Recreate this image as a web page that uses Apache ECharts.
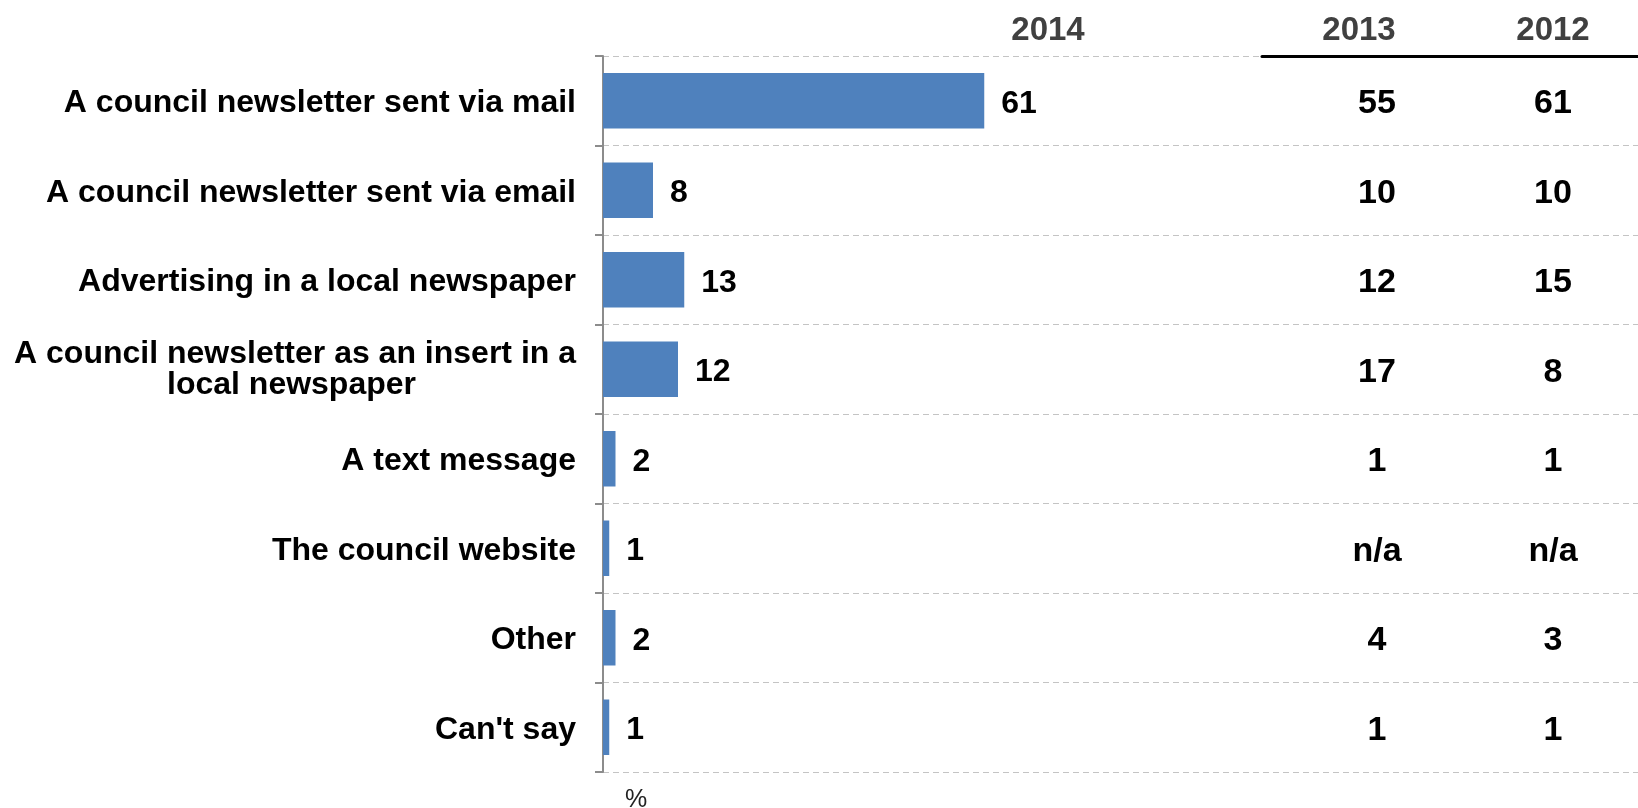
<!DOCTYPE html>
<html>
<head>
<meta charset="utf-8">
<script src="https://cdn.jsdelivr.net/npm/echarts@6/dist/echarts.min.js"></script>
<style>
  html, body { margin: 0; padding: 0; background: #fff; }
  #chart { width: 1638px; height: 808px; }
</style>
</head>
<body>
<div id="chart"></div>
<script>
// Preferred ways of hearing from the council, % of respondents
const categories = [
  'A council newsletter sent via mail',
  'A council newsletter sent via email',
  'Advertising in a local newspaper',
  'A council newsletter as an insert in a\nlocal newspaper',
  'A text message',
  'The council website',
  'Other',
  "Can't say"
];
const values2014 = [61, 8, 13, 12, 2, 1, 2, 1];
const values2013 = [55, 10, 12, 17, 1, null, 4, 1];   // null = not asked
const values2012 = [61, 10, 15, 8, 1, null, 3, 1];
const yearColumns = ['2013', '2012'];
const barYear = '2014';

const FONT = "'Liberation Sans', Arial, sans-serif";
const BLUE = '#4F81BD';

function tableRows(year, vals) {
  return categories.map((c, i) => [year, c, vals[i]]);
}

const cellLabel = {
  show: true, position: 'inside',
  fontFamily: FONT, fontSize: 34, fontWeight: 'bold', color: '#000000',
  formatter: p => p.value[2] == null ? 'n/a' : String(p.value[2])
};

const headStyle = { fontFamily: FONT, fontSize: 33, fontWeight: 'bold', color: '#404040' };

const chart = echarts.init(document.getElementById('chart'), null, { renderer: 'canvas' });

chart.setOption({
  animation: false,
  backgroundColor: '#ffffff',
  textStyle: { fontFamily: FONT },
  title: [
    {
      text: barYear,
      left: 1043, top: 9, textAlign: 'center',
      textStyle: headStyle
    },
    {
      text: '%',
      left: 631, top: 783, textAlign: 'center',
      textStyle: { fontFamily: FONT, fontSize: 25, fontWeight: 'normal', color: '#222222' }
    }
  ],
  grid: [
    { left: 603, right: 0, top: 56, bottom: 36 },
    { left: 1262, right: 0, top: 56, bottom: 36 }
  ],
  xAxis: [
    {
      type: 'value', gridIndex: 0, min: 0, max: 165.6,
      show: false
    },
    {
      type: 'category', gridIndex: 1, position: 'top',
      data: yearColumns,
      axisLine: { show: true, lineStyle: { color: '#000000', width: 3 } },
      axisTick: { show: false },
      axisLabel: {
        margin: 9, interval: 0, hideOverlap: false,
        showMinLabel: true, showMaxLabel: true,
        fontFamily: FONT, fontSize: 33, fontWeight: 'bold', color: '#404040',
        formatter: (v, i) => '{c' + i + '|' + v + '}',
        rich: {
          c0: Object.assign({ padding: [0, 0, 0, 6] }, headStyle),
          c1: Object.assign({ padding: [0, 0, 0, 18] }, headStyle)
        }
      },
      splitLine: { show: false }
    }
  ],
  yAxis: [
    {
      type: 'category', gridIndex: 0, inverse: true,
      data: categories,
      axisLine: { show: true, lineStyle: { color: '#8c8c8c', width: 2 } },
      axisTick: { show: true, length: 8, lineStyle: { color: '#8c8c8c', width: 2 } },
      splitLine: {
        show: true,
        lineStyle: { color: '#c4c4c4', width: 1, type: [6, 4] }
      },
      axisLabel: {
        margin: 27, interval: 0,
        fontFamily: FONT, fontSize: 32, fontWeight: 'bold', color: '#000000',
        align: 'right', lineHeight: 32,
        formatter: function (v) {
          if (v.indexOf('\n') < 0) return '{s|' + v + '}';
          const parts = v.split('\n');
          return '{a|' + parts[0] + '}\n{b|' + parts[1] + '}';
        },
        rich: {
          s: { fontFamily: FONT, fontSize: 32, fontWeight: 'bold', color: '#000', lineHeight: 32, padding: [5, 0, 0, 0] },
          a: { fontFamily: FONT, fontSize: 32, fontWeight: 'bold', color: '#000', lineHeight: 32, padding: [2, 0, 0, 0] },
          b: { fontFamily: FONT, fontSize: 32, fontWeight: 'bold', color: '#000', lineHeight: 32, padding: [0, 160, 0, 0] }
        }
      }
    },
    {
      type: 'category', gridIndex: 1, inverse: true,
      data: categories,
      show: false
    }
  ],
  series: [
    {
      name: barYear,
      type: 'bar',
      xAxisIndex: 0, yAxisIndex: 0,
      data: values2014,
      barWidth: '62%',
      itemStyle: { color: BLUE },
      label: {
        show: true, position: 'right', distance: 17, offset: [0, 3],
        fontFamily: FONT, fontSize: 32, fontWeight: 'bold', color: '#000000'
      }
    },
    {
      name: '2013',
      type: 'scatter',
      xAxisIndex: 1, yAxisIndex: 1,
      symbolSize: 0,
      itemStyle: { opacity: 1 },
      data: tableRows('2013', values2013),
      label: Object.assign({}, cellLabel, { offset: [21, 3] })
    },
    {
      name: '2012',
      type: 'scatter',
      xAxisIndex: 1, yAxisIndex: 1,
      symbolSize: 0,
      itemStyle: { opacity: 1 },
      data: tableRows('2012', values2012),
      label: Object.assign({}, cellLabel, { offset: [9, 3] })
    }
  ]
});
</script>
</body>
</html>
